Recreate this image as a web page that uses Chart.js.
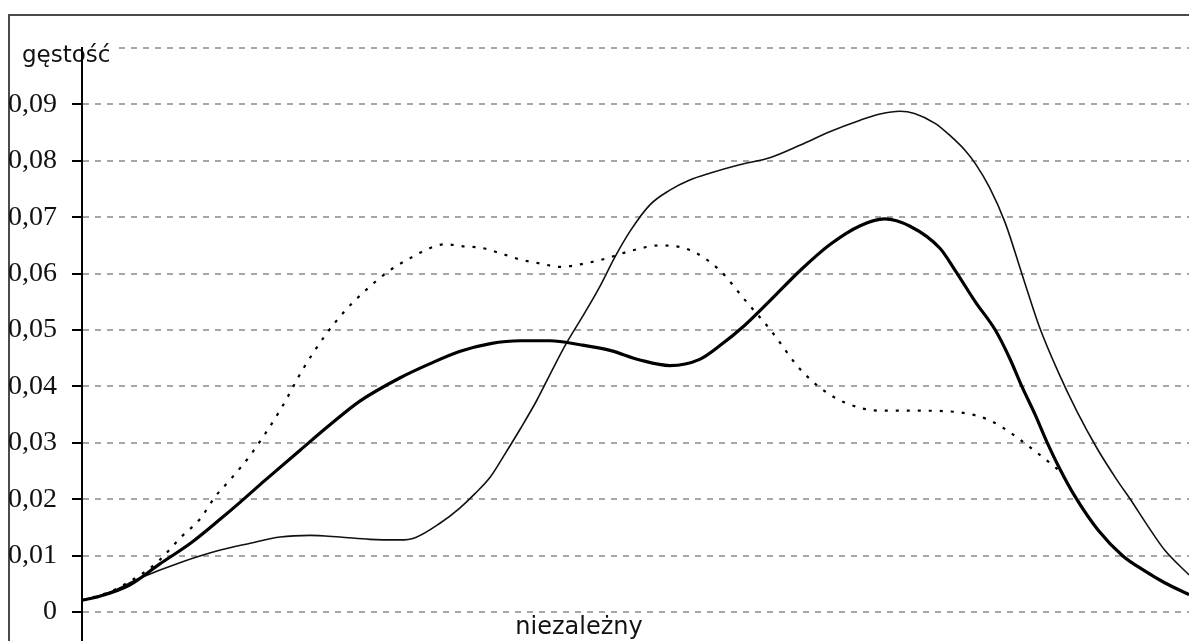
<!DOCTYPE html>
<html><head><meta charset="utf-8">
<script src="https://cdn.jsdelivr.net/npm/chart.js@4"></script>
<style>
html,body{margin:0;padding:0;background:#fff;overflow:hidden;width:1189px;height:641px}
#frame{position:absolute;left:8px;top:14px;width:1300px;height:700px;border-left:2px solid #4a4a4a;border-top:2px solid #4a4a4a;box-sizing:border-box}
#c{position:absolute;left:0;top:0}
</style></head><body>
<div id="frame"></div>
<canvas id="c" width="1189" height="680"></canvas>
<script>
const yTitle = 'gęstość';
const xTitle = 'niezależny';
const yTicks = [0,0.01,0.02,0.03,0.04,0.05,0.06,0.07,0.08,0.09,0.1];

// thick solid series
const xThick = [0,1.6,4.3,7.0,9.8,12.5,14.3,16.5,19.7,22.4,25.1,28.7,31.4,34.1,36.9,39.6,42.3,45.0,47.7,50.4,53.1,55.8,57.6,59.9,62.2,64.9,67.6,70.3,72.5,74.8,77.5,78.9,80.7,82.5,83.8,84.9,86.1,87.2,88.3,89.7,91.8,94.0,96.0,97.8,100];
const yThick = [0.0021,0.0028,0.0048,0.0085,0.0122,0.0165,0.0195,0.0233,0.0287,0.0332,0.0374,0.0415,0.0440,0.0462,0.0476,0.0481,0.0481,0.0474,0.0464,0.0447,0.0437,0.0448,0.0472,0.0509,0.0553,0.0606,0.0652,0.0685,0.0697,0.0684,0.0645,0.0605,0.0550,0.0500,0.0450,0.0400,0.0350,0.0300,0.0255,0.0205,0.0145,0.0100,0.0073,0.0052,0.0031];

// dotted series
const xDotted = [0,2.5,5.2,7.0,8.9,10.7,12.0,13.4,15.2,17.9,20.0,22.1,23.8,25.6,27.6,29.6,31.4,32.8,34.6,36.0,37.8,39.6,41.4,43.2,45.4,47.2,49.5,52.2,54.9,57.6,59.9,62.2,64.9,67.6,70.3,72.1,75.7,79.3,82.0,84.3,86.1,87.4,88.5,89.7,91.8,94.0,96.0,97.8,100];
const yDotted = [0.0021,0.0036,0.0065,0.0092,0.0132,0.0166,0.0204,0.0235,0.0278,0.0358,0.0432,0.0494,0.0535,0.0570,0.0603,0.0627,0.0645,0.0652,0.0648,0.0646,0.0636,0.0625,0.0618,0.0612,0.0618,0.0626,0.0640,0.0650,0.0642,0.0606,0.0553,0.0500,0.0430,0.0385,0.0362,0.0357,0.0357,0.0354,0.0340,0.0312,0.0285,0.0265,0.0245,0.0205,0.0145,0.0100,0.0073,0.0052,0.0031];

// thin solid series
const xThin = [0,2.5,5.2,8.9,12.5,15.2,17.9,20.6,23.3,26.0,28.7,30.1,32.3,34.1,35.5,36.9,38.2,39.6,41.1,42.5,43.8,45.4,46.8,48.1,49.5,51.3,53.1,54.9,56.7,59.4,62.2,64.9,67.6,70.3,72.1,73.9,75.2,77.1,78.4,79.8,80.7,82.0,83.4,84.9,86.5,88.2,89.9,91.7,93.5,94.7,96.3,97.8,100];
const yThin = [0.0020,0.0035,0.0060,0.0088,0.0110,0.0122,0.0133,0.0136,0.0133,0.0129,0.0128,0.0132,0.0157,0.0184,0.0210,0.0240,0.0280,0.0325,0.0376,0.0430,0.0478,0.0530,0.0578,0.0628,0.0675,0.0722,0.0748,0.0766,0.0778,0.0793,0.0806,0.0828,0.0852,0.0872,0.0883,0.0888,0.0884,0.0866,0.0845,0.0818,0.0795,0.0752,0.0690,0.0600,0.0505,0.0425,0.0355,0.0290,0.0234,0.0200,0.0152,0.0110,0.0066];

const pts = (xs, ys) => xs.map((x, i) => ({x, y: ys[i]}));

const titles = {
  id: 'titles',
  beforeDatasetsDraw(chart) {
    const {ctx, chartArea, scales} = chart;
    const yTop = scales.y.getPixelForValue(0.1);
    ctx.save();
    ctx.fillStyle = '#fff';
    ctx.fillRect(chartArea.left + 1, yTop - 4, 33, 8);
    ctx.fillStyle = '#111';
    ctx.font = '23px "DejaVu Sans"';
    ctx.textBaseline = 'alphabetic';
    ctx.textAlign = 'left';
    ctx.fillText(yTitle, 22, yTop + 14);
    ctx.strokeStyle = '#000';
    ctx.lineWidth = 2;
    ctx.beginPath();
    ctx.moveTo(chartArea.left, yTop);
    ctx.lineTo(chartArea.left, yTop + 20);
    ctx.stroke();
    ctx.font = '24px "DejaVu Sans"';
    ctx.textAlign = 'center';
    ctx.fillText(xTitle, 579, scales.y.getPixelForValue(0) + 22);
    ctx.restore();
  }
};

new Chart(document.getElementById('c'), {
  type: 'line',
  data: {
    datasets: [
      {data: pts(xThick, yThick), borderColor: '#000', borderWidth: 3.2, pointRadius: 0, cubicInterpolationMode: 'monotone'},
      {data: pts(xDotted, yDotted), borderColor: '#000', borderWidth: 2.2, borderDash: [3, 8], pointRadius: 0, cubicInterpolationMode: 'monotone'},
      {data: pts(xThin, yThin), borderColor: '#111', borderWidth: 1.6, pointRadius: 0, cubicInterpolationMode: 'monotone'}
    ]
  },
  options: {
    responsive: false,
    animation: false,
    layout: {autoPadding: false, padding: {top: 48, left: 0, right: 0, bottom: 0}},
    plugins: {legend: {display: false}, tooltip: {enabled: false}},
    scales: {
      x: {type: 'linear', min: 0, max: 100, display: false},
      y: {
        min: -0.0064, max: 0.1,
        afterBuildTicks: s => { s.ticks = yTicks.map(v => ({value: v})); },
        afterFit: s => { s.width = 82; },
        border: {display: true, color: '#000', width: 2, dash: [6, 6]},
        grid: {
          color: '#a6a6a6', lineWidth: 2,
          drawTicks: true, tickLength: 10, tickWidth: 2,
          tickColor: c => (c.tick && c.tick.value === 0.1) ? 'rgba(0,0,0,0)' : '#000',
          tickBorderDash: []
        },
        ticks: {
          padding: 15,
          color: '#111',
          font: {family: '"Liberation Serif"', size: 28},
          callback: v => (v === 0.1 ? '' : (v === 0 ? '0' : v.toFixed(2).replace('.', ',')))
        }
      }
    }
  },
  plugins: [titles]
});
</script>
</body></html>
